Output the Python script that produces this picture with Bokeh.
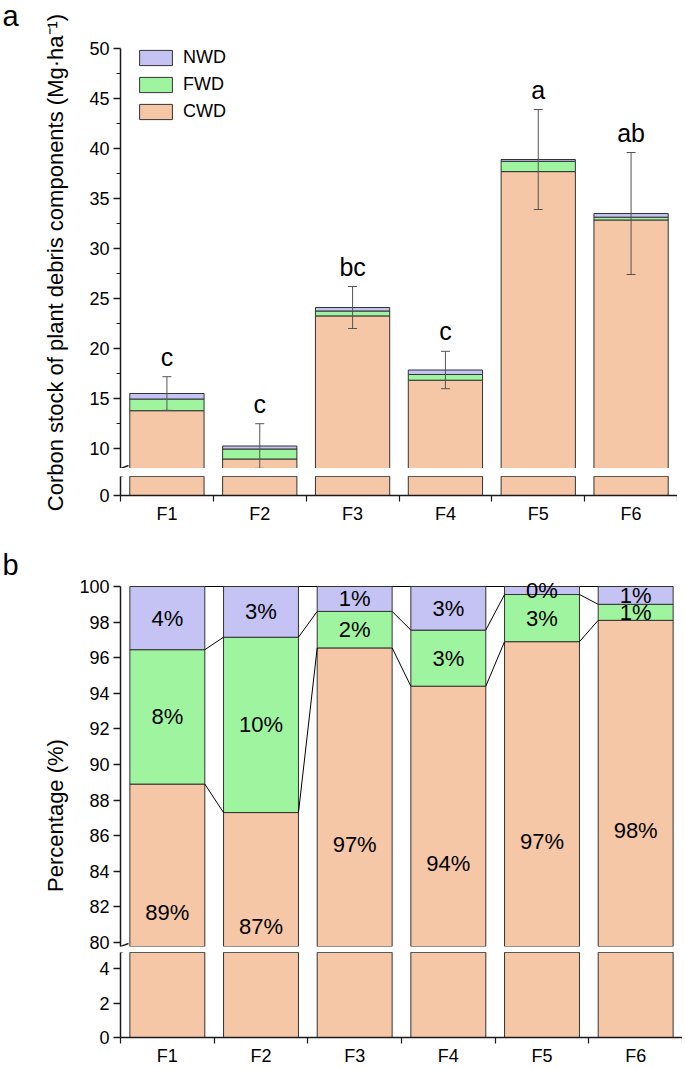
import numpy as np
from math import pi
from bokeh.plotting import figure
from bokeh.models import (Range1d, FixedTicker, ColumnDataSource, Whisker, TeeHead,
                          Legend, LegendItem, Arrow)
from bokeh.layouts import row, column
from bokeh.core.properties import value
from bokeh.embed import file_html
from bokeh.resources import INLINE

# ---------------- data ----------------
categories = ["F1", "F2", "F3", "F4", "F5", "F6"]
components = ["CWD", "FWD", "NWD"]

# panel a: carbon stock (Mg/ha)
cwd_stock = [13.78, 8.95, 23.26, 16.83, 37.69, 32.85]
fwd_stock = [1.17, 1.00, 0.49, 0.57, 1.03, 0.28]
nwd_stock = [0.55, 0.30, 0.35, 0.45, 0.18, 0.37]
stock_err = [1.68, 2.23, 2.10, 1.87, 5.00, 6.10]
sig_letters = ["c", "c", "bc", "c", "a", "ab"]

# panel b: percentage (%)
cwd_pct = [88.90, 87.30, 96.55, 94.40, 96.90, 98.10]
fwd_pct = [7.55, 9.85, 2.05, 3.15, 2.65, 0.90]
nwd_pct = [3.55, 2.85, 1.40, 2.45, 0.45, 1.00]
cwd_lab = ["89%", "87%", "97%", "94%", "97%", "98%"]
fwd_lab = ["8%", "10%", "2%", "3%", "3%", "1%"]
nwd_lab = ["4%", "3%", "1%", "3%", "0%", "1%"]

a_up_ticks = [10, 15, 20, 25, 30, 35, 40, 45, 50]
a_up_minor = [12.5, 17.5, 22.5, 27.5, 32.5, 37.5, 42.5, 47.5]
a_low_ticks = [0]
b_up_ticks = [80, 82, 84, 86, 88, 90, 92, 94, 96, 98, 100]
b_low_ticks = [0, 2, 4]

ylabel_a = "Corbon stock of plant debris components (Mg\u00b7ha\u207b\u00b9)"
ylabel_b = "Percentage (%)"

# ---------------- style ----------------
FONT = "Liberation Sans"
C_CWD = "#F6C7A6"
C_FWD = "#9FF59F"
C_NWD = "#C4C3F4"
EDGE = "#333333"
AX = "#1a1a1a"
colors = [C_CWD, C_FWD, C_NWD]

n = len(categories)
xs = list(range(1, n + 1))
xlabel_map = {i: c for i, c in zip(xs, categories)}
x_bounds = [i + 0.5 for i in range(0, n + 1)]
BAR_W = 0.8

LAB_W = 70
LEFT = 50                        # shared left border of the main plots
# panel a layout
A_W = 607
A_UP_TOP, A_UP_FH = 48, 420
A_GAP, A_LOW_FH, A_BOT = 8, 20, 30
# panel b layout
B_W = 612
B_PX = 17.8                      # pixels per percent unit
B_EXTRA = 9                      # headroom above 100 %
B_BELOW = 4                      # room below the 80 tick before the break
B_UP_TOP, B_UP_FH = 60 - B_EXTRA, 356 + B_EXTRA + B_BELOW
B_GAP, B_LOW_FH, B_BOT = 6, 88, 28


def mk(width, height, top, bottom, yr, xaxis):
    p = figure(width=width, height=height, x_range=Range1d(0.5, n + 0.5),
               y_range=Range1d(*yr), output_backend="svg", toolbar_location=None,
               title=None, x_axis_location=("below" if xaxis else None),
               y_axis_location="left", min_border_left=LEFT, min_border_right=0,
               min_border_top=top, min_border_bottom=bottom)
    p.outline_line_color = None
    p.grid.visible = False
    return p


def style_axis(ax, ticks, minor=None, labels=None, hide_major=False):
    ax.ticker = FixedTicker(ticks=ticks, minor_ticks=(minor or []))
    ax.axis_line_color = AX
    ax.axis_line_width = 1.5
    ax.major_tick_line_color = None if hide_major else AX
    ax.major_tick_line_width = 1.5
    ax.major_tick_out = 6 if hide_major else 7
    ax.major_tick_in = 0
    ax.minor_tick_line_color = AX
    ax.minor_tick_line_width = 1.2
    ax.minor_tick_out = 6 if hide_major else 4
    ax.minor_tick_in = 0
    ax.major_label_text_font = FONT
    ax.major_label_text_font_size = "18px"
    ax.major_label_text_color = "black"
    ax.major_label_standoff = 2 if hide_major else 4
    if labels:
        ax.major_label_overrides = labels


def add_slashes(p, fw, fh, yr, centers):
    ppx = fw / n
    ppy = fh / (yr[1] - yr[0])
    for c in centers:
        yc = yr[0] + c / ppy
        p.add_layout(Arrow(end=None, x_start=0.5 - 8 / ppx, y_start=yc - 3 / ppy,
                           x_end=0.5 + 8 / ppx, y_end=yc + 3 / ppy,
                           line_color=AX, line_width=1.5))


# ---------------- panel a ----------------
totals_a = [c + f + w for c, f, w in zip(cwd_stock, fwd_stock, nwd_stock)]
src_a = ColumnDataSource(dict(
    x=xs, CWD=cwd_stock, FWD=fwd_stock, NWD=nwd_stock,
    upper=[t + e for t, e in zip(totals_a, stock_err)],
    lower=[t - e for t, e in zip(totals_a, stock_err)],
    letters=sig_letters))

a_up_yr = (8, 50)
a_low_yr = (0, 2)
a_up = mk(A_W, A_UP_TOP + A_UP_FH, A_UP_TOP, 0, a_up_yr, False)
a_low = mk(A_W, A_GAP + A_LOW_FH + A_BOT, A_GAP, A_BOT, a_low_yr, True)
A_FW = A_W - LEFT

rs_a = None
for p in (a_up, a_low):
    rs = p.vbar_stack(components, x="x", width=BAR_W, source=src_a,
                      fill_color=colors, line_color=EDGE, line_width=1)
    if rs_a is None:
        rs_a = rs

style_axis(a_up.yaxis[0], a_up_ticks, a_up_minor)
style_axis(a_low.yaxis[0], a_low_ticks)
style_axis(a_low.xaxis[0], xs, x_bounds, xlabel_map, hide_major=True)

ERR_C = "#555555"
wh = Whisker(base="x", upper="upper", lower="lower", source=src_a,
             line_color=ERR_C, line_width=1, level="overlay",
             upper_head=TeeHead(size=9, line_color=ERR_C, line_width=1),
             lower_head=TeeHead(size=9, line_color=ERR_C, line_width=1))
a_up.add_layout(wh)

a_up.text(x="x", y="upper", text="letters", source=src_a, text_font=value(FONT),
          text_font_size="25px", text_align="center", text_baseline="alphabetic",
          y_offset=-20, text_color="black")

leg_items = [LegendItem(label=lab, renderers=[r]) for lab, r in
             zip(components[::-1], rs_a[::-1])]
legend = Legend(items=leg_items, location=(15, A_UP_FH - 74),
                glyph_width=41, glyph_height=19, label_height=21, spacing=6,
                padding=0, margin=0, label_standoff=7,
                label_text_font=FONT, label_text_font_size="18px",
                label_text_color="black",
                border_line_color=None, background_fill_alpha=0)
a_up.add_layout(legend)

add_slashes(a_up, A_FW, A_UP_FH, a_up_yr, [0, -A_GAP])
add_slashes(a_low, A_FW, A_LOW_FH, a_low_yr, [A_LOW_FH + A_GAP, A_LOW_FH])

# ---------------- panel b ----------------
cwdfwd = [c + f for c, f in zip(cwd_pct, fwd_pct)]
tot_b = [c + f + w for c, f, w in zip(cwd_pct, fwd_pct, nwd_pct)]
b_start = 80 - B_BELOW / B_PX
b_up_yr = (b_start, b_start + B_UP_FH / B_PX)
b_low_yr = (0, B_LOW_FH / B_PX)
cwd_label_y = []
for c in cwd_pct:
    vis = (c - b_up_yr[0]) * B_PX + B_GAP + B_LOW_FH
    cwd_label_y.append(c - (vis / 2) / B_PX)

src_b = ColumnDataSource(dict(
    x=xs, CWD=cwd_pct, FWD=fwd_pct, NWD=nwd_pct,
    y_cwd=cwd_label_y,
    y_fwd=[c + f / 2 for c, f in zip(cwd_pct, fwd_pct)],
    y_nwd=[cf + w / 2 for cf, w in zip(cwdfwd, nwd_pct)],
    l_cwd=cwd_lab, l_fwd=fwd_lab, l_nwd=nwd_lab))

# the break gap belongs to the upper canvas so that the "80" label is not cut
b_up = mk(B_W, B_UP_TOP + B_UP_FH + B_GAP, B_UP_TOP, B_GAP, b_up_yr, False)
b_low = mk(B_W, B_LOW_FH + B_BOT, 0, B_BOT, b_low_yr, True)
B_FW = B_W - LEFT

for p in (b_up, b_low):
    p.vbar_stack(components, x="x", width=BAR_W, source=src_b,
                 fill_color=colors, line_color=EDGE, line_width=1)

# connecting lines between neighbouring stacks
for level in (cwd_pct, cwdfwd, tot_b):
    b_up.segment(x0=[x + BAR_W / 2 for x in xs[:-1]], y0=level[:-1],
                 x1=[x - BAR_W / 2 for x in xs[1:]], y1=level[1:],
                 line_color="black", line_width=1)

for ycol, lcol in (("y_cwd", "l_cwd"), ("y_fwd", "l_fwd"), ("y_nwd", "l_nwd")):
    b_up.text(x="x", y=ycol, text=lcol, source=src_b, text_font=value(FONT),
              text_font_size="22px", text_align="center", text_baseline="middle",
              text_color="black")

style_axis(b_up.yaxis[0], b_up_ticks)
b_up.yaxis[0].bounds = (b_up_yr[0], 100)
style_axis(b_low.yaxis[0], b_low_ticks)
b_low.yaxis[0].bounds = (0, b_low_yr[1])
style_axis(b_low.xaxis[0], xs, x_bounds, xlabel_map, hide_major=True)

add_slashes(b_up, B_FW, B_UP_FH, b_up_yr, [0, -B_GAP])
add_slashes(b_low, B_FW, B_LOW_FH, b_low_yr, [B_LOW_FH + B_GAP, B_LOW_FH])

# ---------------- left strip with panel letters and y titles ----------------
TOTAL_H = (A_UP_TOP + A_UP_FH) + (A_GAP + A_LOW_FH + A_BOT) + \
          (B_UP_TOP + B_UP_FH) + (B_GAP + B_LOW_FH + B_BOT)
lab = figure(width=LAB_W, height=TOTAL_H, x_range=Range1d(0, LAB_W),
             y_range=Range1d(-TOTAL_H, 0), output_backend="svg",
             toolbar_location=None, title=None, x_axis_location=None,
             y_axis_location=None, min_border=0, min_border_left=0,
             min_border_right=0, min_border_top=0, min_border_bottom=0)
lab.outline_line_color = None
lab.xgrid.visible = False
lab.ygrid.visible = False
lab.grid.visible = False
lab.text(x=[2, 2], y=[-15, -564], text=["a", "b"], text_font=value(FONT),
         text_font_size="29px", text_align="left", text_baseline="middle",
         text_color="black")
lab.text(x=[55, 55], y=[-262, -815], text=[ylabel_a, ylabel_b], angle=pi / 2,
         text_font=value(FONT), text_font_size="22px", text_align="center",
         text_baseline="middle", text_color="black")

layout = row(lab, column(a_up, a_low, b_up, b_low, spacing=0), spacing=0)

open("out.html", "w").write(file_html(layout, INLINE))
